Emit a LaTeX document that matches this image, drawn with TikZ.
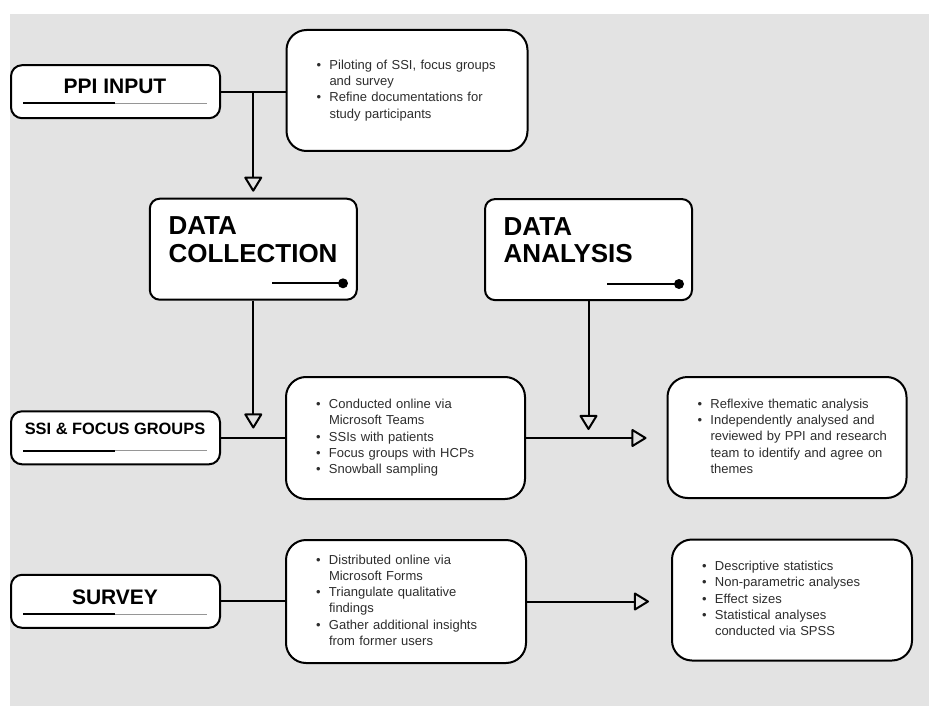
\documentclass[tikz,border=0pt]{standalone}
\usepackage{fontspec}
\setmainfont{Liberation Sans}
\usetikzlibrary{calc,arrows.meta}
\definecolor{canvas}{RGB}{227,227,227}
\definecolor{track}{RGB}{150,150,150}
\definecolor{ink}{RGB}{45,45,45}
\tikzset{tagbox/.style={
  draw=black,
  fill=white,
  line width=2,
  rounded corners=11,
  minimum width=209,
  minimum height=53}}
\tikzset{headbox/.style={
  draw=black,
  fill=white,
  line width=2,
  rounded corners=10,
  minimum width=207,
  minimum height=101}}
\tikzset{notebox/.style={
  draw=black,
  fill=white,
  line width=2,
  rounded corners=20,
  inner xsep=30,
  inner ysep=0,
  align=left,
  text=ink,
  font=\fontsize{13}{16.3}\selectfont}}
\tikzset{flow/.style={
  line width=2,
  -{Triangle[open,length=16pt,width=19pt,round]}}}
\newcommand{\bul}{\makebox[13pt][l]{\textbullet}}
\newcommand{\hang}{\hspace*{13pt}}

\begin{document}
\begin{tikzpicture}[
  x=1pt,y=-1pt,
  tagtext/.style={
    inner sep=0,
    anchor=base,
    font=\fontsize{21}{24}\selectfont\bfseries},
  headtext/.style={
    inner sep=0,
    anchor=north west,
    align=left,
    font=\fontsize{26}{27.4}\selectfont\bfseries}
]
  \useasboundingbox (0,0) rectangle (929,706);
  \fill[canvas] (10,14) rectangle (929,706);

  %% Left tags
  \node[tagbox] (ppi) at (115.5,91.7) {};
  \node[tagtext] (ppitxt) at (115,93.3) {PPI INPUT};
  \node[tagbox] (ssi) at (115.5,437.8) {};
  \node[tagtext,font=\fontsize{16.4}{19}\selectfont\bfseries] (ssitxt) at (115,434.3) {SSI \& FOCUS GROUPS};
  \node[tagbox] (svy) at (115.5,601.3) {};
  \node[tagtext] (svytxt) at (115,604) {SURVEY};

  %% Track under each tag
  \foreach \y in {103.3,450.7,614.3}{
    \draw[line width=2] (23,\y) -- (115,\y);
    \draw[track,line width=1.2] (115,\y) -- (207,\y);
  }

  %% Stage headers
  \node[headbox] (dc) at (253.3,249.2) {};
  \node[headtext] (dctxt) at (168.3,216.7) {DATA\\COLLECTION};
  \draw[line width=2.2] (272,283.3) -- (343,283.3);
  \fill (343,283.3) circle (5);
  \node[headbox] (da) at (588.5,249.6) {};
  \node[headtext] (datxt) at (503.5,217) {DATA\\ANALYSIS};
  \draw[line width=2.2] (607,284) -- (679,284);
  \fill (679,284) circle (5);

  %% Note boxes
  \node[notebox,minimum height=121,text width=181] (pilot) at (407,90.5) {%
    \begin{tabular}{@{}l@{}}
      \bul Piloting of SSI, focus groups\\
      \hang and survey\\
      \bul Refine documentations for\\
      \hang study participants
    \end{tabular}};
  \node[notebox,minimum height=122,text width=179] (cond) at (405.5,438) {%
    \begin{tabular}{@{}l@{}}
      \bul Conducted online via\\
      \hang Microsoft Teams\\
      \bul SSIs with patients\\
      \bul Focus groups with HCPs\\
      \bul Snowball sampling
    \end{tabular}};
  \node[notebox,minimum height=121,text width=179] (refl) at (787,437.5) {%
    \begin{tabular}{@{}l@{}}
      \bul Reflexive thematic analysis\\
      \bul Independently analysed and\\
      \hang reviewed by PPI and research\\
      \hang team to identify and agree on\\
      \hang themes
    \end{tabular}};
  \node[notebox,minimum height=123,text width=180] (dist) at (406,601.5) {%
    \begin{tabular}{@{}l@{}}
      \bul Distributed online via\\
      \hang Microsoft Forms\\
      \bul Triangulate qualitative\\
      \hang findings\\
      \bul Gather additional insights\\
      \hang from former users
    \end{tabular}};
  \node[notebox,minimum height=121,text width=180] (desc) at (792,600) {%
    \begin{tabular}{@{}l@{}}
      \bul Descriptive statistics\\
      \bul Non-parametric analyses\\
      \bul Effect sizes\\
      \bul Statistical analyses\\
      \hang conducted via SPSS
    \end{tabular}};

  %% Connectors
  \coordinate (split) at ($(ppi.east)!.5!(ppi.east -| pilot.west)$);
  \coordinate (dcin) at (253.3,428.5);
  \coordinate (dain) at (588.5,430);
  \draw[line width=2] (ppi.east) -- (ppi.east -| pilot.west);
  \draw[flow,shorten >=6pt] (split) -- (split |- dc.north);
  \draw[flow] (dc.south) -- (dcin);
  \draw[flow] (da.south) -- (dain);
  \draw[line width=2] (ssi.east) -- (ssi.east -| cond.west);
  \draw[flow,shorten >=20pt] (cond.east) -- (cond.east -| refl.west);
  \draw[line width=2] (svy.east) -- (svy.east -| dist.west);
  \draw[flow,shorten >=22pt] (dist.east) -- (dist.east -| desc.west);

\end{tikzpicture}
\end{document}
